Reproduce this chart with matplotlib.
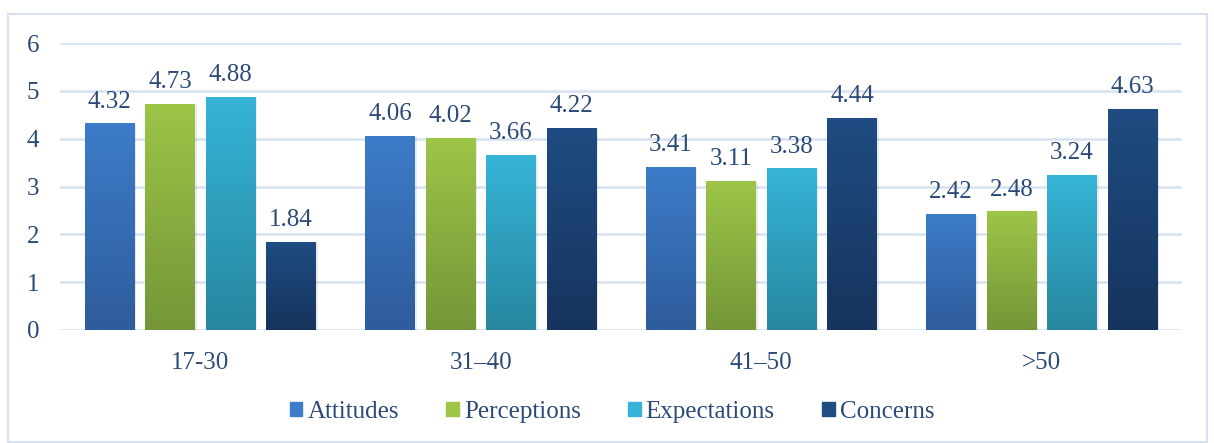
import numpy as np
import matplotlib
matplotlib.use("Agg")
import matplotlib.pyplot as plt
from matplotlib.patches import Rectangle
from matplotlib.colors import LinearSegmentedColormap

categories = ["17-30", "31\u201340", "41\u201350", ">50"]
series = ["Attitudes", "Perceptions", "Expectations", "Concerns"]
attitudes = [4.32, 4.06, 3.41, 2.42]
perceptions = [4.73, 4.02, 3.11, 2.48]
expectations = [4.88, 3.66, 3.38, 3.24]
concerns = [1.84, 4.22, 4.44, 4.63]
values = [attitudes, perceptions, expectations, concerns]

tops = ["#3D7CC9", "#9DC547", "#36B4D7", "#1F4C82"]
bottoms = ["#2E5C9C", "#749638", "#27879F", "#16345D"]
txt = "#2B4A78"

plt.rcParams['font.family'] = ['Liberation Serif', 'DejaVu Serif']
FS = 18

W, H = 1214, 443
fig = plt.figure(figsize=(W/100, H/100), dpi=100)
ax = fig.add_axes([60/W, 1-330/H, (1182-60)/W, (330-43)/H])

# outer border
fig.patches.append(Rectangle((8/W, 1/H), (1207-8)/W, (428)/H, transform=fig.transFigure,
                             fill=False, edgecolor="#D6E2F0", linewidth=1.5, zorder=0))

x = np.arange(len(categories))
pitch = 0.2157
width = 0.178
grad = np.linspace(0, 1, 256).reshape(-1, 1)
for i, (vals, s) in enumerate(zip(values, series)):
    off = (i - 1.5) * pitch
    bars = ax.bar(x + off, vals, width, color=tops[i], label=s, zorder=3)
    cmap = LinearSegmentedColormap.from_list("g%d" % i, [bottoms[i], tops[i]])
    for b, v in zip(bars, vals):
        x0 = b.get_x(); w = b.get_width(); h = b.get_height()
        ax.add_patch(Rectangle((x0 + 0.006, -0.03), w, h, color="#000000", alpha=0.08,
                               zorder=2, linewidth=0))
        im = ax.imshow(grad, extent=[x0, x0 + w, 0, h], origin="lower", cmap=cmap,
                       aspect="auto", zorder=4)
        im.set_clip_path(b)
        ax.text(x0 + w/2, h + 0.33, f"{v:.2f}", ha="center", va="baseline",
                fontsize=FS, color=txt, zorder=5)

ax.set_xlim(-0.5, 3.5)
ax.set_ylim(0, 6)
ax.set_yticks(range(0, 7))
ax.set_xticks(x)
ax.set_xticklabels(categories)
ax.tick_params(axis="both", length=0, labelsize=FS, labelcolor=txt)
ax.tick_params(axis="x", pad=16)
ax.tick_params(axis="y", pad=15)
ax.grid(axis="y", color="#D6E2F0", linewidth=1.8, zorder=0)
ax.set_axisbelow(True)
for sp in ax.spines.values():
    sp.set_visible(False)

handles = [Rectangle((0, 0), 1, 1, color=tops[i]) for i in range(4)]
fig.legend(handles, series, loc="center", bbox_to_anchor=(612/W, 1-412/H), ncol=4,
           frameon=False, fontsize=FS, labelcolor=txt, handlelength=0.5, handleheight=0.5,
           handletextpad=0.2, columnspacing=1.9)

fig.savefig("out.png", dpi=100)
